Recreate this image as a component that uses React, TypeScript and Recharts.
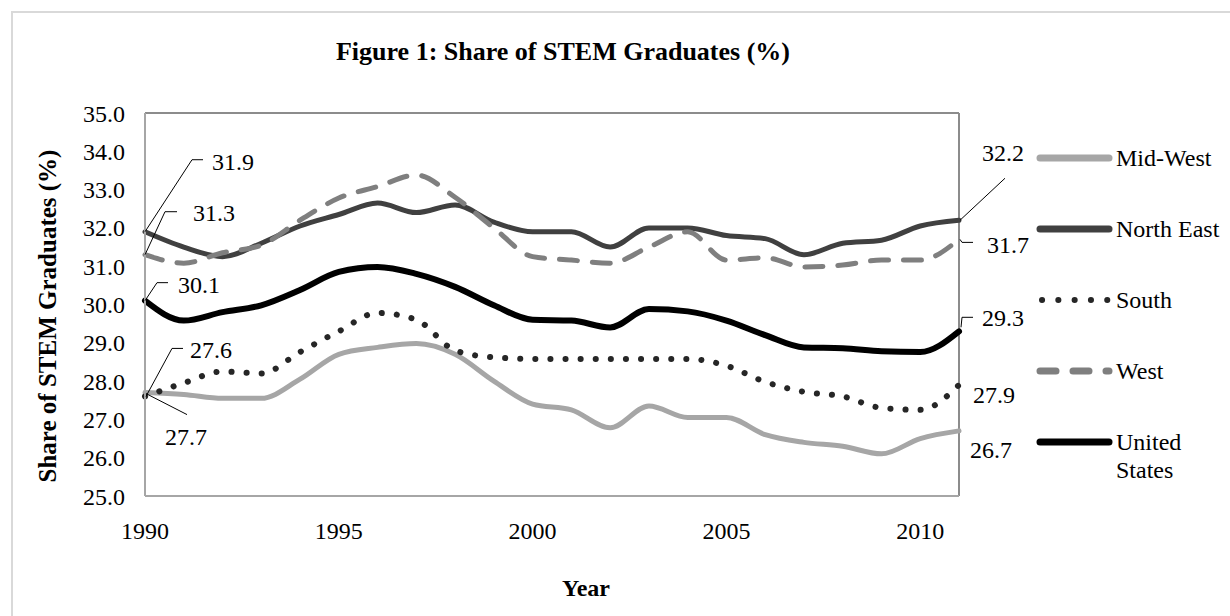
import React from 'react'
import { LineChart, Line, XAxis, YAxis, Legend, LabelList, ReferenceLine } from 'recharts'

const years = [
  1990, 1991, 1992, 1993, 1994, 1995, 1996, 1997, 1998, 1999, 2000,
  2001, 2002, 2003, 2004, 2005, 2006, 2007, 2008, 2009, 2010, 2011,
]

const midWest = [
  27.7, 27.65, 27.55, 27.55, 28.05, 28.7, 28.88, 28.98, 28.7, 28.0, 27.4,
  27.25, 26.78, 27.35, 27.05, 27.05, 26.6, 26.4, 26.3, 26.1, 26.5, 26.7,
]
const northEast = [
  31.9, 31.5, 31.25, 31.6, 32.05, 32.35, 32.65, 32.4, 32.6, 32.15, 31.9,
  31.9, 31.5, 32.0, 32.0, 31.8, 31.72, 31.3, 31.6, 31.68, 32.05, 32.2,
]
const south = [
  27.6, 27.95, 28.25, 28.2, 28.76, 29.3, 29.78, 29.6, 28.8, 28.62, 28.58,
  28.58, 28.58, 28.58, 28.58, 28.4, 27.98, 27.72, 27.6, 27.3, 27.25, 27.9,
]
const west = [
  31.3, 31.08, 31.35, 31.55, 32.2, 32.78, 33.08, 33.38, 32.8, 32.0, 31.25,
  31.16, 31.08, 31.5, 31.9, 31.16, 31.22, 30.98, 31.03, 31.16, 31.16, 31.7,
]
const unitedStates = [
  30.1, 29.58, 29.8, 29.98, 30.38, 30.85, 30.98, 30.8, 30.46, 29.98, 29.6,
  29.58, 29.4, 29.88, 29.82, 29.58, 29.2, 28.88, 28.86, 28.78, 28.76, 29.3,
]

const yTicks = [25, 26, 27, 28, 29, 30, 31, 32, 33, 34, 35]
const xTicks = [1990, 1995, 2000, 2005, 2010]

const FONT = '"Liberation Serif", "Times New Roman", serif'

const chartData = years.map((year, i) => ({
  year,
  midWest: midWest[i],
  northEast: northEast[i],
  south: south[i],
  west: west[i],
  unitedStates: unitedStates[i],
}))

// label placement relative to the first / last point: leader polyline + text spot
type Spot = { lead?: number[][]; tx: number; ty: number }

const series = [
  {
    key: 'midWest', name: 'Mid-West', color: '#a6a6a6', width: 5, dash: undefined as string | undefined,
    legendDash: undefined as string | undefined,
    start: { lead: [[1, 1], [42, 22]], tx: 20, ty: 44 } as Spot,
    end: { tx: 11, ty: 19 } as Spot,
  },
  {
    key: 'northEast', name: 'North East', color: '#404040', width: 5, dash: undefined, legendDash: undefined,
    start: { lead: [[0, 0], [47, -72], [58, -72]], tx: 67, ty: -70 } as Spot,
    end: { lead: [[1, 0], [46, -42]], tx: 23, ty: -67 } as Spot,
  },
  {
    key: 'south', name: 'South', color: '#262626', width: 6, dash: '0.1 15', legendDash: '0.1 16.2',
    start: { lead: [[1, 0], [27, -48], [38, -48]], tx: 45, ty: -46 } as Spot,
    end: { tx: 14, ty: 10 } as Spot,
  },
  {
    key: 'west', name: 'West', color: '#7f7f7f', width: 5, dash: '18 15', legendDash: '16 17',
    start: { lead: [[0, 0], [20, -43], [32, -43]], tx: 48, ty: -42 } as Spot,
    end: { lead: [[1, 0], [3, 3], [14, 3]], tx: 28, ty: 6 } as Spot,
  },
  {
    key: 'unitedStates', name: 'United States', color: '#000000', width: 6, dash: undefined, legendDash: undefined,
    start: { lead: [[0, 0], [12, -18], [23, -18]], tx: 33, ty: -16 } as Spot,
    end: { lead: [[2, -4], [3, -14], [14, -14]], tx: 23, ty: -13 } as Spot,
  },
]

function makeLabel(start: Spot, end: Spot, last: number) {
  return (props: any) => {
    const { x, y, value, index } = props
    if (index !== 0 && index !== last) return null
    const s = index === 0 ? start : end
    const pts = s.lead ? s.lead.map(([dx, dy]) => `${x + dx},${y + dy}`).join(' ') : null
    return (
      <g>
        {pts && <polyline points={pts} fill="none" stroke="#000" strokeWidth={1} />}
        <text
          x={x + s.tx}
          y={y + s.ty}
          fontFamily={FONT}
          fontSize={24}
          fill="#000"
          dominantBaseline="central"
        >
          {Number(value).toFixed(1)}
        </text>
      </g>
    )
  }
}

function LegendBox() {
  return (
    <div style={{ fontFamily: FONT, fontSize: 24, color: '#000' }}>
      {series.map((s) => (
        <div key={s.key} style={{ display: 'flex', alignItems: 'flex-start', height: 71 }}>
          <svg width={80} height={28} style={{ flexShrink: 0 }}>
            <line
              x1={s.key === 'south' ? 6 : 4}
              y1={14}
              x2={s.key === 'south' ? 72 : 73}
              y2={14}
              stroke={s.color}
              strokeWidth={s.key === 'south' ? 6 : 7}
              strokeLinecap="round"
              strokeDasharray={s.legendDash}
            />
          </svg>
          <div style={{ width: 110, lineHeight: '28px' }}>{s.name}</div>
        </div>
      ))}
    </div>
  )
}

export default function App() {
  const last = years.length - 1
  return (
    <div style={{ position: 'absolute', left: 0, top: 0, width: 1230, height: 616, background: '#fff', overflow: 'hidden' }}>
      <div
        style={{
          position: 'absolute', left: 11, top: 11, width: 1240, height: 640,
          border: '2px solid #d9d9d9', boxSizing: 'border-box',
        }}
      />
      <div
        style={{
          position: 'absolute', left: 0, top: 37, width: 1126, textAlign: 'center',
          fontFamily: FONT, fontSize: 26, fontWeight: 'bold', lineHeight: '30px',
        }}
      >
        Figure 1: Share of STEM Graduates (%)
      </div>
      <div
        style={{
          position: 'absolute', left: 0, top: 574, width: 1172, textAlign: 'center',
          fontFamily: FONT, fontSize: 24, fontWeight: 'bold', lineHeight: '28px',
        }}
      >
        Year
      </div>
      <LineChart
        width={1230}
        height={616}
        data={chartData}
        margin={{ top: 113, right: 271, bottom: 80, left: 0 }}
        style={{ position: 'absolute', left: 0, top: 0 }}
      >
        <XAxis
          dataKey="year"
          type="number"
          domain={[1990, 2011]}
          ticks={xTicks}
          height={40}
          tickLine={false}
          tickSize={0}
          tickMargin={26}
          axisLine={{ stroke: '#a6a6a6', strokeWidth: 2 }}
          tick={{ fill: '#000', fontSize: 24, fontFamily: FONT }}
        />
        <YAxis
          type="number"
          domain={[25, 35]}
          ticks={yTicks}
          width={145}
          tickLine={false}
          tickSize={0}
          tickMargin={20}
          interval={0}
          allowDataOverflow
          tickFormatter={(v: number) => v.toFixed(1)}
          axisLine={{ stroke: '#a6a6a6', strokeWidth: 2 }}
          tick={{ fill: '#000', fontSize: 24, fontFamily: FONT }}
          label={{
            content: () => (
              <text
                x={47}
                y={316}
                transform="rotate(-90, 47, 316)"
                textAnchor="middle"
                dominantBaseline="central"
                fontFamily={FONT}
                fontSize={25}
                fontWeight="bold"
                fill="#000"
              >
                Share of STEM Graduates (%)
              </text>
            ),
          }}
        />
        {/* plot-area frame: top and right edges */}
        <ReferenceLine y={35} stroke="#8c8c8c" strokeWidth={2} />
        <ReferenceLine x={2011} stroke="#8c8c8c" strokeWidth={2} />
        {series.map((s) => (
          <Line
            key={s.key}
            dataKey={s.key}
            name={s.name}
            type="monotone"
            stroke={s.color}
            strokeWidth={s.width}
            strokeDasharray={s.dash}
            strokeLinecap="round"
            dot={false}
            activeDot={false}
            isAnimationActive={false}
          >
            <LabelList dataKey={s.key} content={makeLabel(s.start, s.end, last)} />
          </Line>
        ))}
        <Legend
          layout="horizontal"
          verticalAlign="middle"
          align="center"
          wrapperStyle={{ left: 1036, top: 144, width: 194 }}
          content={() => <LegendBox />}
        />
      </LineChart>
    </div>
  )
}
